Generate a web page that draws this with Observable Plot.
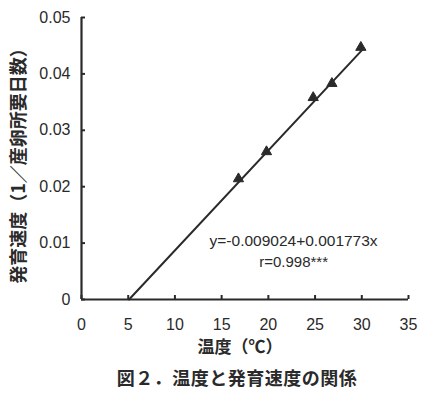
<!DOCTYPE html>
<html>
<head>
<meta charset="utf-8">
<script src="https://cdn.jsdelivr.net/npm/d3@7"></script>
<script src="https://cdn.jsdelivr.net/npm/@observablehq/plot@0.6"></script>
<style>
  html, body { margin: 0; padding: 0; background: #fff; }
  #chart svg { display: block; }
  #caption {
    font-family: "Noto Sans CJK JP", sans-serif;
    font-weight: bold;
    font-size: 18px;
    color: #2a2a2a;
    height: 30px;
    line-height: 30px;
    text-align: center;
    padding-left: 37px;
    letter-spacing: 0.5px;
  }
</style>
</head>
<body>
<div id="chart"></div>
<div id="caption"></div>
<script>
// Data
const temps = [16.8, 19.8, 24.8, 26.8, 29.9];
const rates = [0.0214, 0.0262, 0.0358, 0.0383, 0.0447];
const intercept = -0.009024;
const slope = 0.001773;
const lineXEnd = 30;
const xTicks = [0, 5, 10, 15, 20, 25, 30, 35];
const yTicks = [0, 0.01, 0.02, 0.03, 0.04, 0.05];
const equationText = "y=-0.009024+0.001773x";
const rText = "r=0.998***";
const annotPos = [22.7, 0.0103];
const xLabel = "温度（℃）";
const yLabel = "発育速度（1／産卵所要日数）";
const captionText = "図２．温度と発育速度の関係";

const points = temps.map((t, i) => ({temp: t, rate: rates[i]}));
const lineX0 = -intercept / slope;
const fitLine = [lineX0, lineXEnd].map(x => ({temp: x, rate: intercept + slope * x}));

const ink = "#2a2a2a";

const chart = Plot.plot({
  width: 437,
  height: 362,
  marginLeft: 81,
  marginRight: 29,
  marginTop: 17,
  marginBottom: 63,
  style: {fontFamily: "'Liberation Sans', Arial, sans-serif", fontSize: "16px", color: ink, background: "#fff"},
  x: {domain: [0, 35]},
  y: {domain: [0, 0.05]},
  marks: [
    Plot.axisX({ticks: xTicks, tickSize: -4, tickPadding: 23, strokeWidth: 2, fontSize: 16, label: null}),
    Plot.axisY({ticks: yTicks, tickSize: -4, tickPadding: 15, strokeWidth: 2, fontSize: 16, label: null,
      tickFormat: d => d === 0 ? "0" : d.toFixed(2)}),
    Plot.ruleX([0], {stroke: ink, strokeWidth: 2.2}),
    Plot.ruleY([0], {stroke: ink, strokeWidth: 2.2}),
    Plot.line(fitLine, {x: "temp", y: "rate", stroke: ink, strokeWidth: 2}),
    Plot.dot(points, {x: "temp", y: "rate", symbol: "triangle", r: 3.8, fill: ink, stroke: ink, strokeWidth: 1}),
    Plot.text([equationText], {x: annotPos[0], y: annotPos[1], text: d => d, fontSize: 15.5, fill: ink, textAnchor: "middle"}),
    Plot.text([rText], {x: annotPos[0], y: annotPos[1], text: d => d, fontSize: 15, fill: ink, textAnchor: "middle", dy: 21}),
    Plot.text([xLabel], {frameAnchor: "bottom", text: d => d, dy: 53, dx: -5, fontSize: 17, fontWeight: "bold",
      fontFamily: "'Noto Sans CJK JP', sans-serif", fill: ink, textAnchor: "middle"}),
    Plot.text([yLabel], {frameAnchor: "left", text: d => d, dx: -62, dy: 3, rotate: -90, fontSize: 18, fontWeight: "bold",
      fontFamily: "'Noto Sans CJK JP', sans-serif", fill: ink, textAnchor: "middle"})
  ]
});
document.getElementById("chart").appendChild(chart);
document.getElementById("caption").textContent = captionText;
</script>
</body>
</html>
